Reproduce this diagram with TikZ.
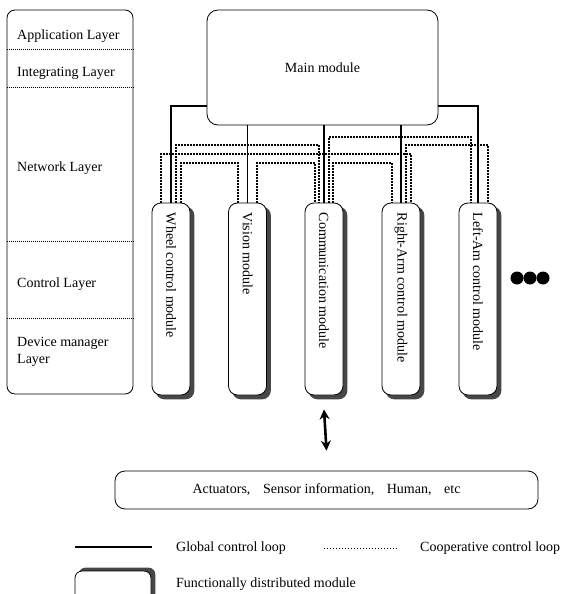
\documentclass[tikz,border=0pt]{standalone}
\usepackage{fontspec}
\setmainfont{Liberation Serif}
\usetikzlibrary{arrows.meta,backgrounds}
\begin{document}
\begin{tikzpicture}[x=1pt,y=-1pt,
  every node/.style={font=\fontsize{14}{17}\selectfont},
  box/.style={draw, line width=0.8pt, rounded corners=9pt, fill=white, inner sep=0pt},
  modbox/.style={draw, line width=0.8pt, rounded corners=9pt, fill=white, inner sep=0pt,
    minimum width=38pt, minimum height=192pt},
  legbox/.style={draw, line width=0.8pt, rounded corners=7pt, fill=white, inner sep=0pt,
    minimum width=76pt, minimum height=36pt},
  shadowfill/.style={fill=black!72, rounded corners=9pt},
  modlabel/.style={rotate=-90, anchor=west, inner sep=0pt},
  layertext/.style={anchor=west, inner sep=0pt, align=left},
  glob/.style={line width=1.4pt},
  coop/.style={line width=1.2pt, dash pattern=on 1.4pt off 1.6pt},
  sepline/.style={line width=0.6pt, dash pattern=on 1pt off 1pt},
  dotc/.style={circle, fill=black, minimum size=13pt, inner sep=0pt}
]
\path[use as bounding box] (0,0) rectangle (564,594);
\clip (0,0) rectangle (564,594);

% layer box
\node[box, minimum width=126pt, minimum height=384pt, rounded corners=8pt] (layers) at (70,202) {};
\draw[sepline] (layers.west |- 0,49) -- (layers.east |- 0,49);
\draw[sepline] (layers.west |- 0,87) -- (layers.east |- 0,87);
\draw[sepline] (layers.west |- 0,241) -- (layers.east |- 0,241);
\draw[sepline] (layers.west |- 0,318) -- (layers.east |- 0,318);
\node[layertext] (l1) at (17,36) {Application Layer};
\node[layertext] (l2) at (17,73) {Integrating Layer};
\node[layertext] (l3) at (17,168) {Network Layer};
\node[layertext] (l4) at (17,284) {Control Layer};
\node[layertext] (l5) at (17,351.5) {Device manager\\Layer};

% main module
\node[box, minimum width=231pt, minimum height=115pt, rounded corners=11pt] (main) at (322.5,67.5) {Main module};

% modules
\node[modbox] (wheel) at (171,299) {};
\node[modbox] (vision) at (247.5,299) {};
\node[modbox] (comm) at (324,299) {};
\node[modbox] (rarm) at (401,299) {};
\node[modbox] (larm) at (478,299) {};
\begin{scope}[on background layer]
  \foreach \m in {wheel,vision,comm,rarm,larm}
    \fill[shadowfill] ([shift={(4,4)}]\m.south west) rectangle ([shift={(4,4)}]\m.north east);
\end{scope}
\node[modlabel] (wheelT) at ([yshift=-10pt]wheel.north) {Wheel control module};
\node[modlabel] (visionT) at ([yshift=-10pt]vision.north) {Vision module};
\node[modlabel] (commT) at ([yshift=-10pt]comm.north) {Communication module};
\node[modlabel] (rarmT) at ([yshift=-10pt]rarm.north) {Right-Arm control module};
\node[modlabel] (larmT) at ([yshift=-10pt]larm.north) {Left-Am control module};

\node[dotc] (d1) at (517,278) {};
\node[dotc] (d2) at (530,278) {};
\node[dotc] (d3) at (543,278) {};

% global control loop
\draw[glob] (main.south -| vision.north) -- (vision.north);
\draw[glob] (main.south -| comm.north) -- (comm.north);
\draw[glob] (main.south -| rarm.north) -- (rarm.north);
\draw[glob] ([yshift=-38.5pt]main.west) -| (wheel.north);
\draw[glob] ([yshift=-38.5pt]main.east) -| (larm.north);

% cooperative control loop
\coordinate (wA) at ([xshift=5pt]wheel.north);
\draw[coop] (wA) -- (wA |- 0,145) -| ([xshift=-5pt]comm.north);
\coordinate (wB) at ([xshift=-10pt]wheel.north);
\draw[coop] (wB) -- (wB |- 0,154) -| ([xshift=10pt]rarm.north);
\coordinate (wC) at ([xshift=10pt]wheel.north);
\draw[coop] (wC) -- (wC |- 0,163) -| ([xshift=-9.5pt]vision.north);
\coordinate (vA) at ([xshift=9.5pt]vision.north);
\draw[coop] (vA) -- (vA |- 0,163) -| ([xshift=-9pt]comm.north);
\coordinate (cA) at ([xshift=9pt]comm.north);
\draw[coop] (cA) -- (cA |- 0,163) -| ([xshift=-9pt]rarm.north);
\coordinate (cB) at ([xshift=5pt]comm.north);
\draw[coop] (cB) -- (cB |- 0,137) -| ([xshift=-7pt]larm.north);
\coordinate (rA) at ([xshift=5pt]rarm.north);
\draw[coop] (rA) -- (rA |- 0,145) -| ([xshift=10pt]larm.north);

% actuators
\node[box, minimum width=423pt, minimum height=38pt, rounded corners=10pt] (act) at (326.5,490)
  {Actuators,\hspace{0.9em}Sensor information,\hspace{0.9em}Human,\hspace{0.9em}etc};
\draw[line width=2.6pt, {Stealth[length=10pt,width=10pt]}-{Stealth[length=10pt,width=10pt]}]
  ([yshift=-14pt]comm.south) -- ([yshift=20pt]act.north);

% legend
\coordinate (g1) at (75,547);
\coordinate (g2) at (152,547);
\draw[line width=1.8pt] (g1) -- (g2);
\node[anchor=west, inner sep=0pt] (gl) at (176,548) {Global control loop};
\coordinate (c1) at (324,548);
\coordinate (c2) at (398,548);
\draw[coop, line width=1pt] (c1) -- (c2);
\node[anchor=west, inner sep=0pt] (cl) at (420,548) {Cooperative control loop};
\node[legbox] (leg) at (113,589) {};
\begin{scope}[on background layer]
  \fill[shadowfill, rounded corners=7pt] ([shift={(4,-3)}]leg.south west) rectangle ([shift={(4,-3)}]leg.north east);
\end{scope}
\node[anchor=west, inner sep=0pt] (fl) at (176,584) {Functionally distributed module};
\end{tikzpicture}
\end{document}
